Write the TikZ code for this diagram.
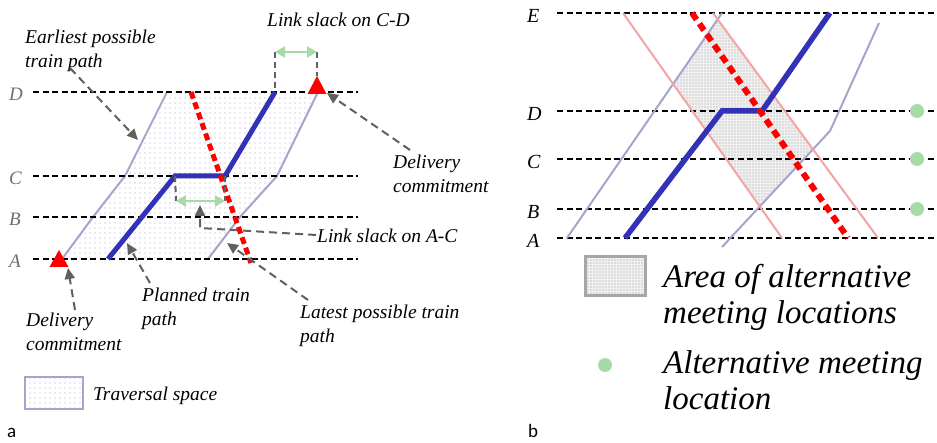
\documentclass[tikz,border=0pt]{standalone}
\usepackage{fontspec}
\setmainfont{Liberation Serif}
\newfontfamily\panelfont{Carlito}
\usetikzlibrary{arrows.meta,patterns.meta}
\definecolor{lav}{RGB}{164,164,204}
\definecolor{pathblue}{RGB}{50,50,185}
\definecolor{pinkline}{RGB}{244,164,164}
\definecolor{slackgreen}{RGB}{166,219,166}
\definecolor{arrgray}{RGB}{96,96,96}
\definecolor{dotlav}{RGB}{165,165,205}
\definecolor{labgray}{RGB}{110,110,110}
\tikzset{
  station/.style={black, line width=1.6pt, dash pattern=on 6pt off 3.5pt},
  bound/.style={lav, line width=2pt},
  pinkbound/.style={pinkline, line width=2pt},
  planned/.style={pathblue, line width=5pt},
  latest/.style={red, line width=5pt, dash pattern=on 7pt off 4pt},
  latestb/.style={red, line width=6pt, dash pattern=on 8pt off 5pt},
  callout/.style={arrgray, line width=2pt, dash pattern=on 8pt off 5pt, -{Triangle[length=11pt,width=10pt]}},
  slack/.style={slackgreen, line width=2.5pt, {Triangle[length=10pt,width=11pt]}-{Triangle[length=10pt,width=11pt]}},
  guide/.style={arrgray, line width=2pt, dash pattern=on 6pt off 4pt},
  txt/.style={font=\fontsize{19.5}{24}\selectfont\itshape, inner sep=0pt, align=left},
  bigtxt/.style={font=\fontsize{33}{36}\selectfont\itshape, inner sep=0pt, align=left},
  stlabA/.style={font=\fontsize{19}{22}\selectfont\itshape, text=labgray, inner sep=0pt, anchor=base west},
  stlabB/.style={font=\fontsize{20}{22}\selectfont\itshape, inner sep=0pt, anchor=base west},
  trav/.style={preaction={fill=white}, pattern={Dots[distance=5pt,radius=0.7pt]}, pattern color=dotlav},
  area/.style={preaction={fill=gray!12}, pattern={Dots[distance=3pt,radius=0.65pt]}, pattern color=gray!75},
  commit/.style={fill=red, draw=none},
  altdot/.style={circle, fill=slackgreen, draw=none, minimum size=14pt, inner sep=0pt},
  panel/.style={font=\panelfont\fontsize{19}{21}\selectfont, inner sep=0pt, anchor=base west},
}
\begin{document}
\begin{tikzpicture}[x=1pt,y=-1pt]
\useasboundingbox (0,0) rectangle (937,443);

% ================= panel a =================
% traversal space
\coordinate (eA) at (62,259); \coordinate (eB) at (93,217); \coordinate (eC) at (125,176); \coordinate (eD) at (167,92);
\coordinate (lA) at (208,259); \coordinate (lB) at (240,217); \coordinate (lC) at (277,176); \coordinate (lD) at (318,92);
\fill[trav] (eA) -- (eB) -- (eC) -- (eD) -- (lD) -- (lC) -- (lB) -- (lA) -- cycle;
\draw[bound] (eA) -- (eB) -- (eC) -- (eD);
\draw[bound] (lA) -- (lB) -- (lC) -- (lD);

% stations
\foreach \n/\y in {D/92,C/176,B/217,A/259}{
  \coordinate (sa\n l) at (33,\y); \coordinate (sa\n r) at (358,\y);
  \draw[station] (sa\n l) -- (sa\n r);
  \node[stlabA] (la\n) at (9,\y+9) {\n};
}

% planned path
\coordinate (pA) at (108,259); \coordinate (pC1) at (175,176); \coordinate (pC2) at (225,176); \coordinate (pD) at (275,92);
\draw[planned] (pA) -- (pC1) -- (pC2) -- (pD);
% red dashed
\coordinate (rD) at (191,92); \coordinate (rA) at (251,263);
\draw[latest] (rD) -- (rA);

% delivery commitments
\coordinate (tri1) at (59,250);
\fill[commit] (tri1) -- ++(9.5,17) -- ++(-19,0) -- cycle;
\coordinate (tri2) at (317,76);
\fill[commit] (tri2) -- ++(9.5,18) -- ++(-19,0) -- cycle;

% link slack C-D
\coordinate (sCD1) at (275,52); \coordinate (sCD2) at (317,52);
\draw[guide] (sCD1) -- (pD);
\draw[guide] (sCD2) -- (tri2);
\draw[slack] (sCD1) -- (sCD2);
% link slack A-C
\coordinate (sAC1) at (176,201); \coordinate (sAC2) at (225,201);
\draw[guide] (pC1) -- (sAC1);
\draw[guide] (pC2) -- (sAC2);
\draw[slack] (sAC1) -- (sAC2);

% texts
\node[txt, anchor=north west] (tEarl) at (25,30) {Earliest possible\\train path};
\node[txt, anchor=base west] (tLCD) at (267,27) {Link slack on C-D};
\node[txt, anchor=north west] (tDelR) at (393,155) {Delivery\\commitment};
\node[txt, anchor=base west] (tLAC) at (317,243) {Link slack on A-C};
\node[txt, anchor=north west] (tPlan) at (142,288) {Planned train\\path};
\node[txt, anchor=north west] (tLate) at (300,305) {Latest possible train\\path};
\node[txt, anchor=north west] (tDelL) at (26,313) {Delivery\\commitment};

% callouts
\coordinate (cE0) at (70,68); \coordinate (cE1) at (138,140);
\draw[callout] (cE0) -- (cE1);
\coordinate (cR0) at (410,150); \coordinate (cR1) at (327,93);
\draw[callout] (cR0) -- (cR1);
\coordinate (cS0) at (316,235); \coordinate (cS1) at (200,228); \coordinate (cS2) at (200,205);
\draw[callout] (cS0) -- (cS1) -- (cS2);
\coordinate (cL0) at (75,310); \coordinate (cL1) at (68,268);
\draw[callout] (cL0) -- (cL1);
\coordinate (cP0) at (150,283); \coordinate (cP1) at (127,243);
\draw[callout] (cP0) -- (cP1);
\coordinate (cT0) at (308,300); \coordinate (cT1) at (227,243);
\draw[callout] (cT0) -- (cT1);

% legend a
\draw[trav, draw=lav, line width=2.5pt] (25,377) rectangle (83,409);
\node[txt, anchor=base west] (tTrav) at (93,401) {Traversal space};
\node[panel] (pa) at (7,437) {a};

% ================= panel b =================
\fill[area] (717.7,19.3) -- (673,84) -- (759.7,206.5) -- (813,149.3) -- cycle;
\foreach \n/\y in {E/13,D/111,C/159,B/209,A/238}{
  \coordinate (sb\n l) at (557,\y); \coordinate (sb\n r) at (937,\y);
  \draw[station] (sb\n l) -- (sb\n r);
  \node[stlabB] (lb\n) at (527,\y+10) {\n};
}
% lavender bounds
\coordinate (v1a) at (567,238); \coordinate (v1b) at (722,13);
\draw[bound] (v1a) -- (v1b);
\coordinate (v2a) at (722,247); \coordinate (v2b) at (830,131); \coordinate (v2c) at (879,23);
\draw[bound] (v2a) -- (v2b) -- (v2c);
% pink bounds
\coordinate (k1a) at (623,13); \coordinate (k1b) at (782,238);
\draw[pinkbound] (k1a) -- (k1b);
\coordinate (k2a) at (713,13); \coordinate (k2b) at (878,238);
\draw[pinkbound] (k2a) -- (k2b);
% planned
\coordinate (qA) at (625,238); \coordinate (qD1) at (722,111); \coordinate (qD2) at (762,111); \coordinate (qE) at (830,13);
\draw[planned, line width=5.5pt] (qA) -- (qD1) -- (qD2) -- (qE);
% red dashed
\coordinate (rbE) at (692,13); \coordinate (rbA) at (848,238);
\draw[latestb] (rbE) -- (rbA);
% alternative meeting locations
\node[altdot] (m1) at (917,111) {};
\node[altdot] (m2) at (917,159) {};
\node[altdot] (m3) at (917,209) {};

% legend b
\draw[area, draw=gray!70, line width=3pt] (585,257) rectangle (645,296);
\node[bigtxt, anchor=north west] (tArea) at (663,264) {Area of alternative\\meeting locations};
\node[altdot] (mleg) at (605,365) {};
\node[bigtxt, anchor=north west] (tAlt) at (663,350) {Alternative meeting\\location};
\node[panel] (pb) at (528,437) {b};
\end{tikzpicture}
\end{document}
